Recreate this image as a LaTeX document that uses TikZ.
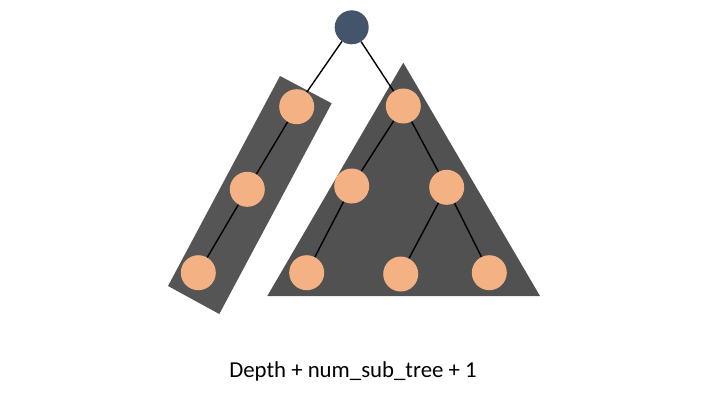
\documentclass[tikz,border=0pt]{standalone}
\usepackage{fontspec}
\setmainfont{Carlito}
\usepackage{tikz}
\definecolor{rootblue}{HTML}{44546A}
\definecolor{peach}{HTML}{F4B183}
\definecolor{boxgray}{HTML}{555555}
\tikzset{
	rootnode/.style={circle, fill=rootblue, minimum size=34pt, inner sep=0pt},
	leafnode/.style={circle, fill=peach, minimum size=35pt, inner sep=0pt},
	edge/.style={line width=1.4pt, color=black}
}

\begin{document}
\begin{tikzpicture}[x=1pt, y=-1pt]
		%%%%% START %%%%%
		\useasboundingbox (0, 0) rectangle (720, 405);
		
		\fill[color=boxgray] (280, 76) -- (331.7, 103.3) -- (219.3, 314) -- (168, 286) -- cycle;
		\fill[color=boxgray!95!black] (403.3, 62.7) -- (540, 296) -- (267.3, 296) -- cycle;
		
		\node[rootnode] (root) at (351.7, 27.3) {};
		
		\node[leafnode] (l1) at (296.7, 106.7) {};
		\node[leafnode] (l2) at (247.3, 189.3) {};
		\node[leafnode] (l3) at (198.3, 272.7) {};
		
		\node[leafnode] (r) at (403.3, 106) {};
		\node[leafnode] (ra) at (351.7, 186) {};
		\node[leafnode] (rb) at (446.7, 187.3) {};
		\node[leafnode] (raa) at (306.7, 272.7) {};
		\node[leafnode] (rba) at (400.7, 274) {};
		\node[leafnode] (rbb) at (489.3, 272.7) {};
		
		\draw[edge] (root) -- (l1);
		\draw[edge] (root) -- (r);
		\draw[edge] (l1) -- (l2);
		\draw[edge] (l2) -- (l3);
		\draw[edge] (r) -- (ra);
		\draw[edge] (r) -- (rb);
		\draw[edge] (ra) -- (raa);
		\draw[edge] (rb) -- (rba);
		\draw[edge] (rb) -- (rbb);
		
		\node (label) at (353, 371) {\fontsize{22.8}{26}\selectfont Depth + num\_sub\_tree + 1};
		%%%%% END %%%%%
	\end{tikzpicture}
\end{document}
